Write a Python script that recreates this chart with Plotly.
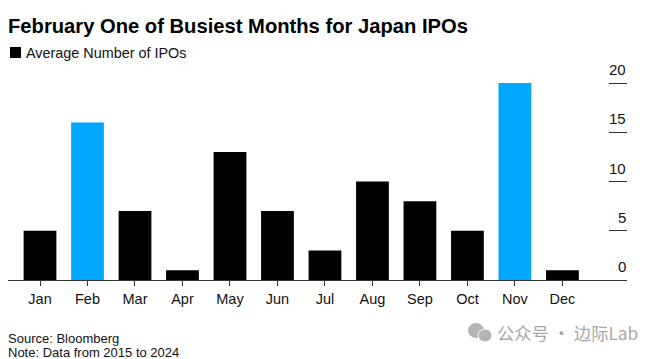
import plotly.graph_objects as go

months = ["Jan", "Feb", "Mar", "Apr", "May", "Jun", "Jul", "Aug", "Sep", "Oct", "Nov", "Dec"]
avg_ipos = [5, 16, 7, 1, 13, 7, 3, 10, 8, 5, 20, 1]
highlight = ["Feb", "Nov"]
y_ticks = [0, 5, 10, 15, 20]
title = "February One of Busiest Months for Japan IPOs"
legend_label = "Average Number of IPOs"
source = "Source: Bloomberg"
note = "Note: Data from 2015 to 2024"
watermark = "公众号 · 边际Lab"

BLUE = "#00a8ff"
FONT = "Liberation Sans, Arial, sans-serif"
colors = [BLUE if m in highlight else "#000000" for m in months]

fig = go.Figure(go.Bar(x=months, y=avg_ipos, marker=dict(color=colors, line_width=0),
                       width=0.69, showlegend=False, hoverinfo="x+y"))

anns = []
for t in y_ticks:
    anns.append(dict(x=1, xref="paper", y=t, yref="y", yanchor="bottom", xanchor="right",
                     yshift=3, text=str(t), showarrow=False, xshift=1,
                     font=dict(size=15, color="#111111", family=FONT)))

L, R, T, B = 8, 627, 60, 280
W, H = R - L, B - T


def px_x(x):
    return (x - L) / W


def px_y(y):
    return (B - y) / H


def text_at(x, y, text, size, color="#000000", weight=None, family=FONT):
    return dict(x=px_x(x), xref="paper", y=px_y(y), yref="paper", xanchor="left", yanchor="middle",
                text=text, showarrow=False, borderpad=0, xshift=-1,
                font=dict(size=size, color=color, family=family, weight=weight))


anns += [
    text_at(8, 26, title, 20.2, weight=700),
    text_at(26, 53, legend_label, 14.4, color="#111111"),
    text_at(8, 338, source, 13, color="#111111"),
    text_at(8, 352, note, 13, color="#111111"),
    text_at(497, 332, watermark, 17.3, color="#a8a8a8", family="Noto Sans CJK SC, Liberation Sans"),
]

shapes = [
    dict(type="rect", xref="paper", yref="paper", x0=px_x(10), x1=px_x(21), y0=px_y(58), y1=px_y(47),
         fillcolor="#000000", line_width=0),
    dict(type="circle", xref="paper", yref="paper", x0=px_x(468), x1=px_x(484), y0=px_y(338), y1=px_y(323),
         fillcolor="#b4b4b4", line_width=0),
    dict(type="circle", xref="paper", yref="paper", x0=px_x(478), x1=px_x(492), y0=px_y(342), y1=px_y(329),
         fillcolor="#b4b4b4", line=dict(color="#ffffff", width=1)),
]

fig.update_layout(
    width=660, height=359, autosize=False,
    margin=dict(l=L, r=660 - R, t=T, b=359 - B, pad=0),
    paper_bgcolor="#ffffff", plot_bgcolor="#ffffff",
    bargap=0.31, showlegend=False,
    font=dict(family=FONT, color="#111111"),
    annotations=anns, shapes=shapes,
    xaxis=dict(type="category", categoryorder="array", categoryarray=months,
               range=[-0.674, 12.36], showgrid=False, zeroline=False,
               showline=True, linecolor="#333333", linewidth=1,
               ticks="outside", ticklen=5, tickcolor="#333333", tickwidth=1, ticklabelstandoff=1,
               tickfont=dict(size=14.5, color="#111111", family=FONT)),
    yaxis=dict(side="right", range=[0, 220 / 9.85], tickvals=y_ticks, showticklabels=False,
               showgrid=False, zeroline=False, showline=False,
               ticks="inside", ticklen=18, tickcolor="#333333", tickwidth=1),
)

fig.write_html("out.html", config={"displayModeBar": False},
               post_script="document.body.style.margin='0';document.body.style.overflow='hidden';")
